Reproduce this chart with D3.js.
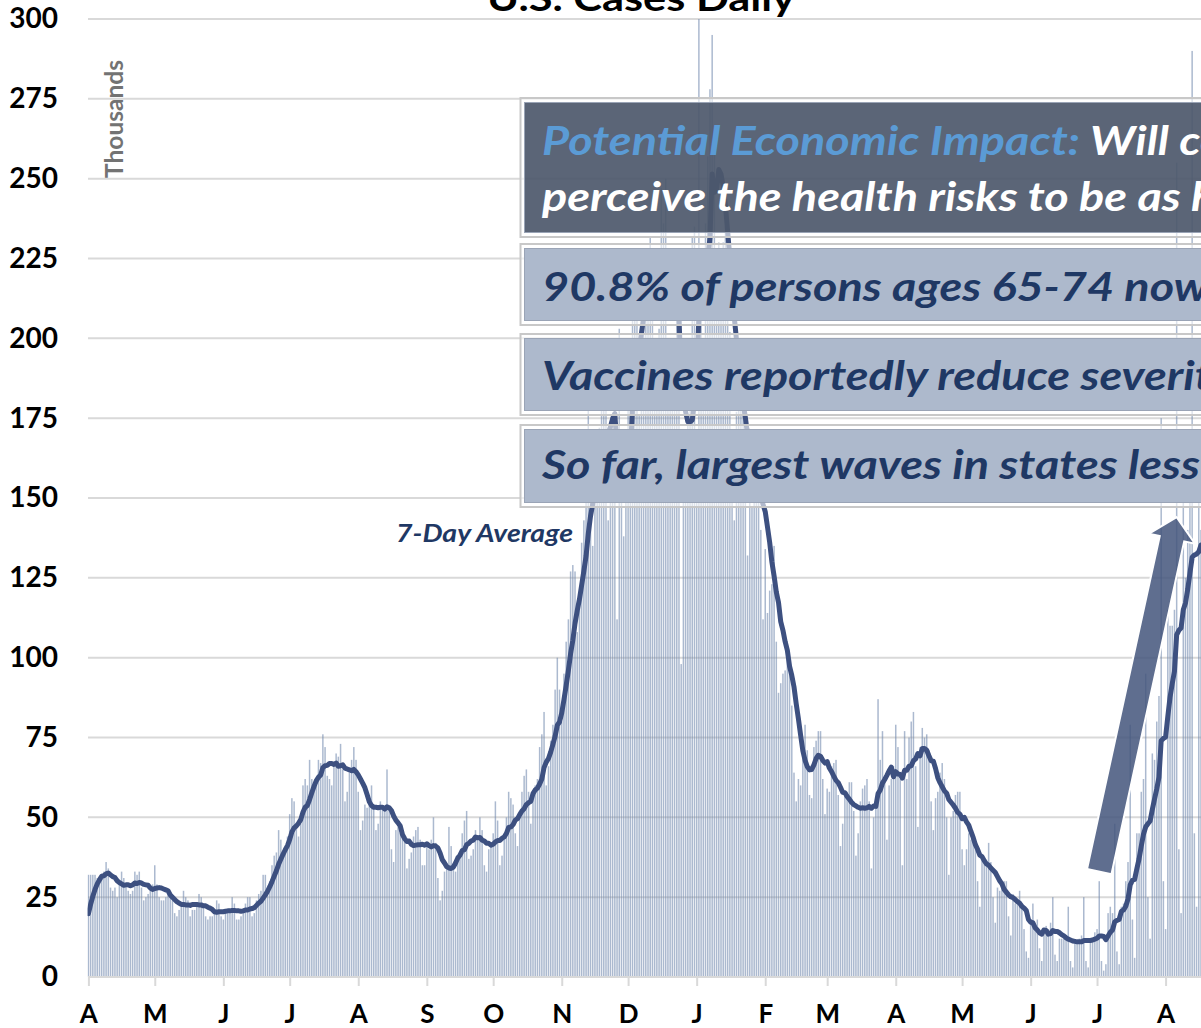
<!DOCTYPE html>
<html>
<head>
<meta charset="utf-8">
<script src="https://cdn.jsdelivr.net/npm/d3@7"></script>
<style>
  html, body { margin: 0; padding: 0; background: #fff; overflow: hidden; }
  svg { display: block; font-family: Lato, "Open Sans", "DejaVu Sans", sans-serif; }
</style>
</head>
<body>
<svg id="chart" width="1201" height="1028"></svg>
<script>
// ---------------------------------------------------------------
// U.S. daily reported COVID-19 cases, in thousands.
// The lead-in days (Mar 26-31, 2020) only feed the 7-day average.
// ---------------------------------------------------------------
const startDate = "2020-03-26";

const leadIn2020 = [12, 14, 17, 19, 21, 24];

const cases2020 = [
  // April
  32, 32, 32, 32, 31, 30, 32, 33, 36, 34, 28, 27, 28, 25, 29, 33, 31, 29, 27, 26,
  27, 33, 32, 33, 28, 24, 25, 26, 27, 29,
  // May
  35, 29, 25, 24, 24, 25, 27, 26, 24, 20, 19, 21, 22, 27, 25, 24, 19, 21, 21, 22,
  26, 25, 22, 19, 18, 19, 19, 21, 24, 23, 19,
  // June
  18, 20, 20, 21, 25, 23, 18, 18, 19, 21, 23, 25, 25, 19, 20, 24, 26, 27, 32, 32,
  27, 30, 35, 38, 39, 46, 43, 38, 40, 44,
  // July
  51, 56, 55, 47, 44, 48, 60, 62, 60, 68, 62, 58, 60, 68, 67, 76, 72, 63, 62, 60,
  66, 70, 69, 73, 65, 55, 58, 64, 68, 72, 68,
  // August
  58, 46, 49, 54, 53, 56, 60, 54, 46, 48, 55, 53, 52, 65, 52, 40, 36, 46, 47, 45,
  46, 43, 34, 37, 39, 44, 46, 47, 43, 35, 35,
  // September
  42, 40, 43, 50, 42, 31, 24, 27, 33, 35, 47, 41, 34, 33, 38, 39, 45, 49, 52, 37,
  38, 40, 46, 43, 50, 46, 35, 33, 40, 42,
  // October
  45, 55, 49, 35, 38, 43, 50, 58, 56, 54, 45, 41, 52, 58, 63, 65, 58, 48, 58, 60,
  62, 72, 76, 83, 60, 66, 74, 79, 90, 100, 90,
  // November
  80, 95, 105, 112, 127, 129, 127, 108, 120, 136, 143, 160, 178, 165, 135, 160, 158, 172, 186, 195,
  178, 143, 174, 176, 183, 112, 203, 152, 138, 160,
  // December
  180, 200, 217, 227, 214, 176, 196, 215, 221, 225, 232, 218, 187, 194, 203, 247, 236, 250, 192, 187,
  197, 200, 228, 196, 98, 170, 150, 175, 200, 232, 235
];

const cases2021 = [
  // January
  155, 300, 208, 186, 236, 257, 278, 295, 260, 214, 230, 226, 230, 235, 240, 202, 170, 143, 177, 184,
  193, 190, 170, 132, 150, 147, 155, 166, 166, 140, 112,
  // February
  134, 114, 121, 123, 135, 105, 89, 92, 95, 96, 104, 100, 85, 64, 55, 62, 60, 70, 79, 71,
  57, 56, 72, 74, 77, 77, 62, 51,
  // March
  59, 58, 66, 67, 68, 57, 41, 48, 57, 58, 61, 61, 52, 38, 45, 55, 59, 60, 62, 55,
  34, 50, 54, 87, 68, 77, 63, 43, 60, 62, 66,
  // April
  79, 72, 62, 35, 77, 62, 75, 80, 83, 66, 47, 72, 78, 75, 76, 71, 55, 46, 56, 58,
  64, 67, 62, 50, 32, 50, 52, 57, 58, 58,
  // May
  40, 35, 40, 45, 43, 45, 42, 30, 22, 37, 36, 36, 42, 36, 25, 17, 28, 27, 29, 30,
  30, 19, 13, 26, 23, 24, 27, 23, 15, 8, 6,
  // June
  17, 23, 16, 18, 9, 5, 15, 16, 15, 17, 25, 7, 5, 12, 12, 12, 13, 22, 5, 3,
  11, 11, 12, 13, 25, 5, 3, 11, 12, 14,
  // July
  15, 30, 5, 2, 4, 20, 22, 20, 48, 8, 4, 22, 23, 30, 36, 79, 18, 6, 45, 45,
  58, 62, 95, 25, 12, 70, 68, 80, 88, 175, 30,
  // August (through the 17th)
  15, 115, 110, 110, 115, 255, 40, 20, 155, 125, 140, 150, 290, 45, 22, 160, 140
];

const monthLetters = ["J", "F", "M", "A", "M", "J", "J", "A", "S", "O", "N", "D"];
const yTickValues = [0, 25, 50, 75, 100, 125, 150, 175, 200, 225, 250, 275, 300];

const chartTitle = "U.S. Cases Daily";
const unitLabel = "Thousands";
const averageLabel = "7-Day Average";

// Callout text
const calloutHeadline = "Potential Economic Impact:";
const calloutQuestion = [" Will consumers", "perceive the health risks to be as high as in prior waves?"];
const calloutNotes = [
  "90.8% of persons ages 65-74 now fully vaccinated",
  "Vaccines reportedly reduce severity of illness",
  "So far, largest waves in states less vaccinated"
];

// Trend arrow, expressed in data terms
const surgeArrow = { from: { date: "2021-07-02", value: 33 }, to: { date: "2021-08-06", value: 144 } };

// ---------------------------------------------------------------
const W = 1201, H = 1028;
const svg = d3.select("#chart");
const parse = d3.utcParse("%Y-%m-%d");

const values = leadIn2020.concat(cases2020, cases2021);
const t0 = parse(startDate);
const series = values.map((v, i) => ({ date: d3.utcDay.offset(t0, i), value: v }));
const rolling = series
  .map((d, i) => i < 6 ? null : { date: d.date, value: d3.mean(values.slice(i - 6, i + 1)) })
  .filter(Boolean);

const x = d3.scaleUtc()
  .domain([Date.UTC(2020, 3, 1), Date.UTC(2021, 7, 1)])
  .range([88.4, 1165.6]);
const y = d3.scaleLinear().domain([0, 300]).range([977, 19]);

const plotLeft = 88;

svg.append("defs").append("clipPath").attr("id", "plot-clip")
  .append("rect")
  .attr("x", plotLeft - 0.4).attr("y", y(300))
  .attr("width", W).attr("height", y(0) - y(300));

// Horizontal gridlines
svg.append("g").selectAll("line").data(yTickValues).join("line")
  .attr("x1", plotLeft).attr("x2", W)
  .attr("y1", d => y(d)).attr("y2", d => y(d))
  .attr("stroke", "#d9d9d9").attr("stroke-width", 2);

// Daily bars
svg.append("g").attr("clip-path", "url(#plot-clip)")
  .selectAll("rect").data(series).join("rect")
  .attr("x", d => x(d.date) - 0.75)
  .attr("width", 1.5)
  .attr("y", d => y(d.value))
  .attr("height", d => y(0) - y(d.value))
  .attr("fill", "#6f87ad")
  .attr("fill-opacity", 0.58);

// X axis (month initials)
const monthTicks = d3.utcMonth.range(new Date(Date.UTC(2020, 3, 1)), new Date(Date.UTC(2021, 8, 1)));
const xAxis = svg.append("g")
  .attr("transform", `translate(0,${y(0)})`)
  .call(d3.axisBottom(x)
    .tickValues(monthTicks)
    .tickFormat(d => monthLetters[d.getUTCMonth()])
    .tickSize(9).tickSizeOuter(0).tickPadding(19));
xAxis.select(".domain").attr("stroke", "#d9d9d9").attr("stroke-width", 2)
  .attr("d", `M${plotLeft},0H${W}`);
xAxis.selectAll(".tick line").attr("stroke", "#d9d9d9").attr("stroke-width", 2);
xAxis.selectAll(".tick text")
  .attr("fill", "#000").attr("font-size", 26).attr("font-weight", 700)
  .attr("font-family", "Lato, 'Open Sans', sans-serif");

// Y axis labels
const yAxis = svg.append("g")
  .attr("transform", `translate(${plotLeft},0)`)
  .call(d3.axisLeft(y).tickValues(yTickValues).tickSize(0).tickPadding(30));
yAxis.select(".domain").remove();
yAxis.selectAll(".tick text")
  .attr("fill", "#000").attr("font-size", 28).attr("font-weight", 700)
  .attr("font-family", "Lato, 'Open Sans', sans-serif");

// 7-day average line
svg.append("path")
  .datum(rolling)
  .attr("clip-path", "url(#plot-clip)")
  .attr("fill", "none")
  .attr("stroke", "#3d5080")
  .attr("stroke-width", 5)
  .attr("stroke-linejoin", "round")
  .attr("stroke-linecap", "round")
  .attr("d", d3.line().x(d => x(d.date)).y(d => y(d.value)));

svg.append("text")
  .attr("x", 396).attr("y", 541.5)
  .attr("font-size", 24).attr("font-weight", 700).attr("font-style", "italic")
  .attr("fill", "#1f3864")
  .attr("textLength", 177).attr("lengthAdjust", "spacingAndGlyphs")
  .text(averageLabel);

// Surge arrow
(function drawArrow() {
  const T = [x(parse(surgeArrow.from.date)), y(surgeArrow.from.value)];
  const P = [x(parse(surgeArrow.to.date)), y(surgeArrow.to.value)];
  const len = Math.hypot(P[0] - T[0], P[1] - T[1]);
  const u = [(P[0] - T[0]) / len, (P[1] - T[1]) / len];
  const n = [-u[1], u[0]];
  const shaft = 12.5, head = 23.5, headLen = 22;
  const B = [P[0] - u[0] * headLen, P[1] - u[1] * headLen];
  const pt = (base, k) => [base[0] + n[0] * k, base[1] + n[1] * k];
  const pts = [pt(T, shaft), pt(B, shaft), pt(B, head), P, pt(B, -head), pt(B, -shaft), pt(T, -shaft)];
  svg.append("polygon")
    .attr("points", pts.map(p => p.join(",")).join(" "))
    .attr("fill", "#43557b").attr("fill-opacity", 0.85)
    .attr("stroke", "#fff").attr("stroke-width", 2).attr("stroke-linejoin", "miter");
})();

// Callout boxes
const boxes = [
  { top: 98, height: 139, fill: "#323e55", opacity: 0.8 },
  { top: 244, height: 81, fill: "#adb9cc", opacity: 1 },
  { top: 334, height: 81, fill: "#adb9cc", opacity: 1 },
  { top: 425, height: 82, fill: "#adb9cc", opacity: 1 }
];
const boxG = svg.append("g");
boxes.forEach(b => {
  boxG.append("rect")
    .attr("x", 520.5).attr("y", b.top).attr("width", 760).attr("height", b.height)
    .attr("fill", "#ffffff").attr("fill-opacity", 0.6)
    .attr("stroke", "#c8c8c8").attr("stroke-width", 2);
  boxG.append("rect")
    .attr("x", 524.5).attr("y", b.top + 4.5).attr("width", 760).attr("height", b.height - 9)
    .attr("fill", b.fill).attr("fill-opacity", b.opacity)
    .attr("stroke", "#9aa4b6").attr("stroke-width", 1);
});

// Callout text, narrowed to the layout's text measure
const noteFont = { size: 41, family: "Lato, 'Open Sans', sans-serif" };
const probe = svg.append("text")
  .attr("font-size", noteFont.size).attr("font-weight", 700).attr("font-style", "italic")
  .text(calloutHeadline);
const squeeze = 538 / probe.node().getComputedTextLength();
probe.remove();

function noteText(xPos, baseline) {
  return svg.append("text")
    .attr("transform", `translate(${xPos},${baseline}) scale(${squeeze},1)`)
    .attr("font-size", noteFont.size).attr("font-weight", 700).attr("font-style", "italic");
}

const line1 = noteText(542, 155);
line1.append("tspan").attr("fill", "#5b9bd5").text(calloutHeadline);
line1.append("tspan").attr("fill", "#ffffff").text(calloutQuestion[0]);
noteText(542, 211).attr("fill", "#ffffff").text(calloutQuestion[1]);

const noteBaselines = [301, 390, 479];
calloutNotes.forEach((t, i) => {
  noteText(542, noteBaselines[i]).attr("fill", "#1f3864").text(t);
});

// Title (sits at the top edge) and unit label
svg.append("text")
  .attr("x", 641).attr("y", 11)
  .attr("text-anchor", "middle")
  .attr("font-size", 37).attr("font-weight", 700).attr("fill", "#000")
  .attr("textLength", 308).attr("lengthAdjust", "spacingAndGlyphs")
  .text(chartTitle);

svg.append("text")
  .attr("transform", "translate(123,119) rotate(-90)")
  .attr("text-anchor", "middle")
  .attr("font-size", 24).attr("font-weight", 700).attr("fill", "#737373")
  .attr("textLength", 118).attr("lengthAdjust", "spacingAndGlyphs")
  .text(unitLabel);
</script>
</body>
</html>
